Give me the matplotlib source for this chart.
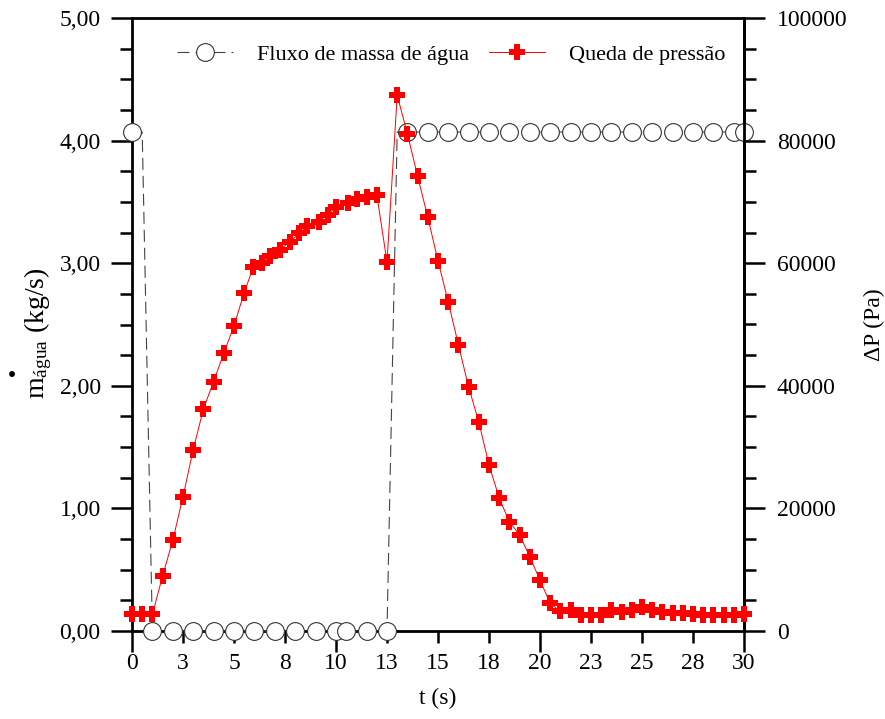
import numpy as np
import matplotlib
matplotlib.use("Agg")
import matplotlib.pyplot as plt
from matplotlib.ticker import MultipleLocator, FuncFormatter
from matplotlib.lines import Line2D

plt.rcParams["font.family"] = ["Liberation Serif", "DejaVu Serif"]
plt.rcParams["mathtext.fontset"] = "custom"
plt.rcParams["mathtext.rm"] = "Liberation Serif"
plt.rcParams["mathtext.it"] = "Liberation Serif:italic"

# Mass flow of water (kg/s), sampled every 0.5 s
t_mass = [0.0, 0.5, 1.0, 1.5, 2.0, 2.5, 3.0, 3.5, 4.0, 4.5, 5.0, 5.5, 6.0, 6.5,
          7.0, 7.5, 8.0, 8.5, 9.0, 9.5, 10.0, 10.5, 11.0, 11.5, 12.0, 12.5,
          13.0, 13.5, 14.0, 14.5, 15.0, 15.5, 16.0, 16.5, 17.0, 17.5, 18.0,
          18.5, 19.0, 19.5, 20.0, 20.5, 21.0, 21.5, 22.0, 22.5, 23.0, 23.5,
          24.0, 24.5, 25.0, 25.5, 26.0, 26.5, 27.0, 27.5, 28.0, 28.5, 29.0,
          29.5, 30.0]
m_agua = [4.07, 4.07, 0.0, 0.0, 0.0, 0.0, 0.0, 0.0, 0.0, 0.0, 0.0, 0.0, 0.0,
          0.0, 0.0, 0.0, 0.0, 0.0, 0.0, 0.0, 0.0, 0.0, 0.0, 0.0, 0.0, 0.0,
          4.07, 4.07, 4.07, 4.07, 4.07, 4.07, 4.07, 4.07, 4.07, 4.07, 4.07,
          4.07, 4.07, 4.07, 4.07, 4.07, 4.07, 4.07, 4.07, 4.07, 4.07, 4.07,
          4.07, 4.07, 4.07, 4.07, 4.07, 4.07, 4.07, 4.07, 4.07, 4.07, 4.07,
          4.07, 4.07]
# Instants that carry a circle marker
t_mass_marked = [0, 1, 2, 3, 4, 5, 6, 7, 8, 9, 10, 10.5, 11.5, 12.5, 13.5,
                 14.5, 15.5, 16.5, 17.5, 18.5, 19.5, 20.5, 21.5, 22.5, 23.5,
                 24.5, 25.5, 26.5, 27.5, 28.5, 29.5, 30.0]

# Pressure drop (Pa)
t_dp = [0.0, 0.5, 1.0, 1.5, 2.0, 2.5, 3.0, 3.5, 4.0, 4.5, 5.0, 5.5, 5.95,
        6.35, 6.75, 7.25, 7.75, 8.2, 8.6, 9.15, 9.6, 10.0, 10.6, 11.05, 11.5,
        12.0, 12.5, 13.0, 13.5, 14.0, 14.5, 15.0, 15.5, 16.0, 16.5, 17.0,
        17.5, 18.0, 18.5, 19.0, 19.5, 20.0, 20.5, 21.0, 21.5, 22.0, 22.5,
        23.0, 23.5, 24.0, 24.5, 25.0, 25.5, 26.0, 26.5, 27.0, 27.5, 28.0,
        28.5, 29.0, 29.5, 30.0]
delta_p = [2700, 2700, 2700, 9000, 14800, 21900, 29600, 36200, 40700, 45300,
           49800, 55200, 59400, 60000, 61100, 62200, 63500, 64900, 66100,
           66800, 67900, 69200, 69800, 70400, 70800, 71200, 60200, 87400,
           81100, 74200, 67500, 60400, 53700, 46700, 39800, 34100, 27100,
           21700, 17800, 15700, 12100, 8300, 4500, 3200, 3400, 2600, 2600,
           2600, 3400, 3150, 3400, 3900, 3400, 3150, 2900, 2900, 2800, 2600,
           2600, 2600, 2600, 2800]

label_mass = "Fluxo de massa de água"
label_dp = "Queda de pressão"

W, H = 885, 719
fig = plt.figure(figsize=(W / 100, H / 100), dpi=100)
ax = fig.add_axes([132 / W, 1 - 631 / H, (744 - 132) / W, (631 - 18) / H])
ax2 = ax.twinx()

mass_style = dict(color="#444444", lw=0.8, dashes=(10.8, 5.4),
                  marker="o", markersize=12.8, markerfacecolor="white",
                  markeredgecolor="#333333", markeredgewidth=0.8)
dp_style = dict(color="#ff0000", lw=0.7, marker="P", markersize=11.8,
                markerfacecolor="#ff0000", markeredgewidth=0)

marks = list(np.nonzero(np.isin(t_mass, t_mass_marked))[0])
ax.plot(t_mass, m_agua, markevery=marks, clip_on=False, zorder=3, **mass_style)
ax2.plot(t_dp, delta_p, clip_on=False, zorder=3, **dp_style)

ax.set_xlim(0, 30)
ax.set_ylim(0, 5)
ax2.set_ylim(0, 100000)

# axis styling
for s in ax.spines.values():
    s.set_linewidth(2)
for name, s in ax2.spines.items():
    s.set_linewidth(2)
    s.set_visible(name == "right")


def half_up(v, pos):
    return f"{int(np.floor(v + 0.5))}"


ax.xaxis.set_major_locator(MultipleLocator(10))
ax.xaxis.set_minor_locator(MultipleLocator(2.5))
ax.xaxis.set_major_formatter(FuncFormatter(half_up))
ax.xaxis.set_minor_formatter(FuncFormatter(half_up))
ax.tick_params(axis="x", which="major", direction="out", length=15, width=1.8,
               pad=1, labelsize=17, top=False)
ax.tick_params(axis="x", which="minor", direction="out", length=8.6, width=1.8,
               pad=7.4, labelsize=17, top=False)

ax.yaxis.set_major_locator(MultipleLocator(1))
ax.yaxis.set_minor_locator(MultipleLocator(0.25))
ax.yaxis.set_major_formatter(FuncFormatter(lambda v, p: f"{v:.2f}".replace(".", ",")))
ax.tick_params(axis="y", which="major", direction="out", length=15, width=1.8,
               pad=7.5, labelsize=17, right=False)
ax.tick_params(axis="y", which="minor", direction="out", length=8.6, width=1.8,
               right=False)

ax2.yaxis.set_major_locator(MultipleLocator(20000))
ax2.yaxis.set_minor_locator(MultipleLocator(5000))
ax2.yaxis.set_major_formatter(FuncFormatter(lambda v, p: f"{int(v)}"))
ax2.tick_params(axis="y", which="major", direction="out", length=15, width=1.8,
                pad=8.5, labelsize=17, left=False)
ax2.tick_params(axis="y", which="minor", direction="out", length=8.6, width=1.8,
                left=False)

# axis titles
ax.set_xlabel("t (s)", fontsize=17)
ax.xaxis.set_label_coords(0.5, -0.093)
fig.text(44 / W, 1 - 399 / H, r"m$_{\mathregular{água}}$ (kg/s)", fontsize=20,
         rotation=90, rotation_mode="anchor", ha="left", va="baseline")
fig.text(12 / W, 1 - 378 / H, "·", fontsize=26, ha="center", va="center",
         fontweight="bold")
ax2.set_ylabel("ΔP (Pa)", fontsize=17, ha="center", va="center")
ax2.yaxis.set_label_coords(1.213, 0.5)

# legend
h_mass = Line2D([], [], **mass_style)
h_dp = Line2D([], [], **dp_style)
ax2.legend([h_mass, h_dp], [label_mass, label_dp], loc="center",
           bbox_to_anchor=(0.522, 0.94), ncol=2, frameon=False, fontsize=16,
           handlelength=2.5, handletextpad=1.1, columnspacing=0.9,
           numpoints=1)

fig.savefig("out.png", dpi=100)
